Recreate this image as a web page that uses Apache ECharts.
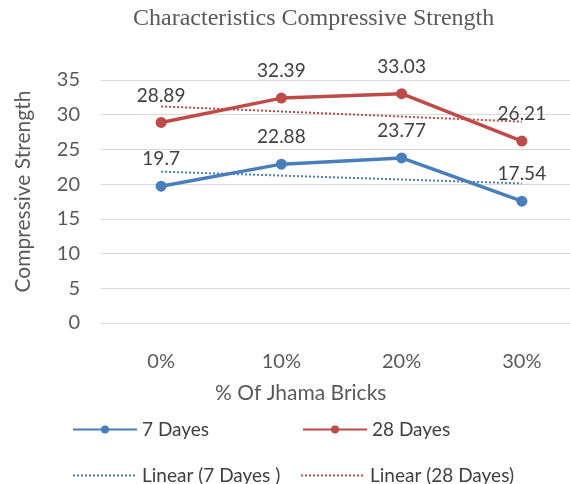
<!DOCTYPE html>
<html>
<head>
<meta charset="utf-8">
<script src="https://cdn.jsdelivr.net/npm/echarts@6/dist/echarts.min.js"></script>
<style>
  html, body { margin: 0; padding: 0; background: #fff; }
  #main { width: 570px; height: 484px; }
</style>
</head>
<body>
<div id="main"></div>
<script>
const categories = ["0%", "10%", "20%", "30%"];
const days7 = [19.7, 22.88, 23.77, 17.54];
const days28 = [28.89, 32.39, 33.03, 26.21];
// trend line ends, middle left empty
const trend7 = [21.8, null, null, 20.1];
const trend28 = [31.2, null, null, 29.0];

const blue = "#4a7ebb";
const red = "#be4b48";
const txt = "#404040";
const font = "Lato";

const chart = echarts.init(document.getElementById("main"));

// one legend per item so the columns line up
const legendAt = (name, left, top, dotted) => ({
  data: [name],
  left: left,
  top: top,
  itemWidth: 64,
  itemHeight: 10,
  itemGap: 8,
  itemStyle: dotted ? { opacity: 0 } : {},
  textStyle: { color: txt, fontSize: 19, fontFamily: font },
});

const option = {
  animation: false,
  title: [
    {
      text: "Characteristics Compressive Strength",
      left: 128,
      top: 2,
      textStyle: {
        color: "#595959",
        fontSize: 24,
        fontWeight: "normal",
        fontFamily: "Liberation Serif",
      },
    },
    {
      text: "% Of Jhama Bricks",
      left: 210,
      top: 378,
      textStyle: {
        color: "#595959",
        fontSize: 21,
        fontWeight: "normal",
        fontFamily: font,
      },
    },
  ],
  legend: [
    legendAt("7 Dayes", 67, 415),
    legendAt("28 Dayes", 297, 415),
    legendAt("Linear (7 Dayes )", 67, 461, true),
    legendAt("Linear (28 Dayes)", 295, 461, true),
  ],
  grid: { left: 101, width: 481, top: 80, bottom: 161, outerBoundsMode: "none" },
  xAxis: {
    type: "category",
    data: categories,
    axisTick: { show: false },
    axisLine: { lineStyle: { color: "#d9d9d9" } },
    axisLabel: { color: "#595959", fontSize: 20, fontFamily: font, margin: 29 },
  },
  yAxis: {
    type: "value",
    min: 0,
    max: 35,
    interval: 5,
    name: "Compressive Strength",
    nameLocation: "middle",
    nameGap: 67,
    nameTextStyle: { color: "#595959", fontSize: 21, fontFamily: font, padding: [0, 0, 0, 20] },
    axisLine: { show: false },
    axisTick: { show: false },
    axisLabel: { color: "#595959", fontSize: 20, fontFamily: font, margin: 21 },
    splitLine: { lineStyle: { color: "#d9d9d9" } },
  },
  series: [
    {
      name: "7 Dayes",
      type: "line",
      data: days7,
      symbol: "circle",
      symbolSize: 11,
      color: blue,
      lineStyle: { width: 3.5 },
      label: { show: true, position: "top", distance: 12, color: txt, fontSize: 19, fontFamily: font },
      z: 3,
    },
    {
      name: "28 Dayes",
      type: "line",
      data: days28,
      symbol: "circle",
      symbolSize: 11,
      color: red,
      lineStyle: { width: 3.5 },
      label: { show: true, position: "top", distance: 12, color: txt, fontSize: 19, fontFamily: font },
      z: 3,
    },
    {
      name: "Linear (7 Dayes )",
      type: "line",
      data: trend7,
      connectNulls: true,
      symbol: "none",
      color: blue,
      lineStyle: { width: 2, type: [2, 2] },
      z: 2,
    },
    {
      name: "Linear (28 Dayes)",
      type: "line",
      data: trend28,
      connectNulls: true,
      symbol: "none",
      color: red,
      lineStyle: { width: 2, type: [2, 2] },
      z: 2,
    },
  ],
};

chart.setOption(option);
</script>
</body>
</html>
